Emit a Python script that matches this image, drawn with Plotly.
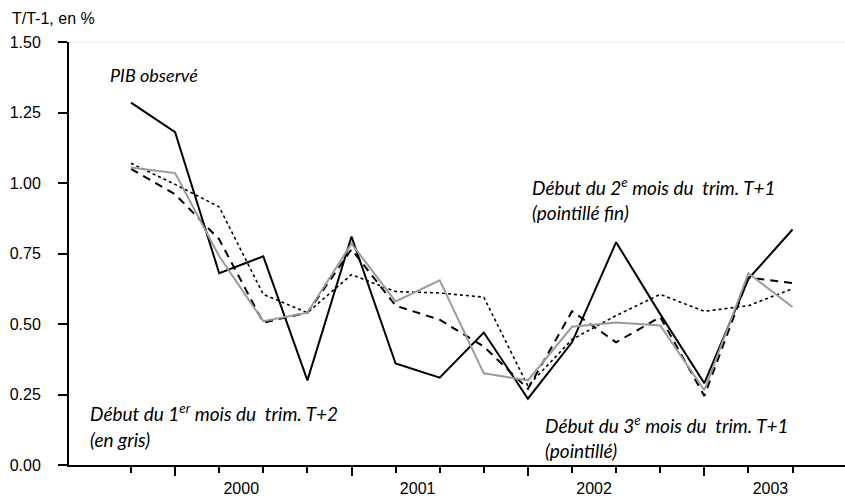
import plotly.graph_objects as go

# trimestres : de 1999T4 à 2003T3
quarters = ["1999T4",
            "2000T1", "2000T2", "2000T3", "2000T4",
            "2001T1", "2001T2", "2001T3", "2001T4",
            "2002T1", "2002T2", "2002T3", "2002T4",
            "2003T1", "2003T2", "2003T3"]
years = ["2000", "2001", "2002", "2003"]

pib_observe = [1.285, 1.18, 0.68, 0.74, 0.30, 0.81, 0.36, 0.31,
               0.47, 0.235, 0.435, 0.79, 0.535, 0.29, 0.66, 0.835]
mois1_t2 = [1.055, 1.035, 0.74, 0.51, 0.54, 0.785, 0.58, 0.655,
            0.325, 0.30, 0.49, 0.505, 0.495, 0.265, 0.68, 0.56]
mois3_t1 = [1.05, 0.96, 0.80, 0.505, 0.54, 0.765, 0.565, 0.515,
            0.42, 0.27, 0.545, 0.435, 0.525, 0.245, 0.665, 0.645]
mois2_t1 = [1.07, 0.995, 0.915, 0.605, 0.54, 0.675, 0.615, 0.61,
            0.595, 0.28, 0.445, 0.53, 0.605, 0.545, 0.565, 0.625]

y_ticks = [0, 0.25, 0.5, 0.75, 1.0, 1.25, 1.5]

x = list(range(len(quarters)))
q1_idx = [i for i, q in enumerate(quarters) if q.endswith("T1")]
year_centers = [i + 1.5 for i in q1_idx]  # milieu des 4 trimestres

fig = go.Figure()
fig.add_trace(go.Scatter(x=x, y=mois2_t1, mode="lines", name="2e mois T+1",
                         line=dict(color="black", width=1.6, dash="dot")))
fig.add_trace(go.Scatter(x=x, y=mois3_t1, mode="lines", name="3e mois T+1",
                         line=dict(color="black", width=2, dash="8px,6px")))
fig.add_trace(go.Scatter(x=x, y=mois1_t2, mode="lines", name="1er mois T+2",
                         line=dict(color="#9a9a9a", width=2), xaxis="x2"))
fig.add_trace(go.Scatter(x=x, y=pib_observe, mode="lines", name="PIB observé",
                         line=dict(color="black", width=2)))

x_range = [-1.406, 16.19]
tick_font = dict(family="Liberation Sans, Arial", size=16, color="black")

fig.update_layout(
    width=845, height=500,
    margin=dict(l=69, r=0, t=42, b=35),
    plot_bgcolor="white", paper_bgcolor="white",
    showlegend=False,
    xaxis=dict(range=x_range, showgrid=False, zeroline=False,
               showline=True, linecolor="black", linewidth=2,
               tickmode="array", tickvals=year_centers, ticktext=years,
               ticks="outside", ticklen=8, tickcolor="rgba(0,0,0,0)",
               tickfont=tick_font,
               minor=dict(tickmode="array", tickvals=x, ticks="outside",
                          ticklen=6, tickwidth=1.5, tickcolor="black")),
    xaxis2=dict(range=x_range, overlaying="x", anchor="y", side="bottom",
                showgrid=False, zeroline=False, showline=False,
                tickmode="array", tickvals=q1_idx, showticklabels=False,
                ticks="outside", ticklen=10, tickwidth=1.5, tickcolor="black"),
    yaxis=dict(range=[0, 1.5], showgrid=False, zeroline=False,
               showline=True, linecolor="black", linewidth=2,
               tickmode="array", tickvals=y_ticks, tickformat=".2f",
               ticks="outside", ticklen=9, tickwidth=1.5, tickcolor="black",
               ticklabelstandoff=14, tickfont=tick_font),
)

# fine ligne grise en haut du cadre
fig.add_shape(type="line", xref="paper", yref="paper", x0=0, x1=1, y0=1, y1=1,
              line=dict(color="#ececec", width=1))

fig.add_annotation(text="T/T-1, en %", xref="paper", yref="paper",
                   x=-0.076, y=1.055, xanchor="left", yanchor="middle",
                   showarrow=False, font=tick_font)

labels = [
    ("<i>PIB observé</i>", -0.52, 1.383, 18),
    ("<i>Début du 2<sup>e</sup> mois du&nbsp; trim. T+1</i>", 9.05, 0.988, 19),
    ("<i>(pointillé fin)</i>", 9.05, 0.896, 19),
    ("<i>Début du 1<sup>er</sup> mois du&nbsp; trim. T+2</i>", -0.975, 0.185, 19),
    ("<i>(en gris)</i>", -0.975, 0.089, 19),
    ("<i>Début du 3<sup>e</sup> mois du&nbsp; trim. T+1</i>", 9.34, 0.142, 19),
    ("<i>(pointillé)</i>", 9.34, 0.053, 19),
]
for txt, ax, ay, fs in labels:
    fig.add_annotation(text=txt, x=ax, y=ay, xref="x", yref="y",
                       xanchor="left", yanchor="middle", showarrow=False,
                       font=dict(family="Lato, Open Sans", size=fs, color="black"))

# pas de marge de page autour du graphique
fig.write_html("out.html", config={"displayModeBar": False},
               post_script="document.body.style.margin = '0';")
